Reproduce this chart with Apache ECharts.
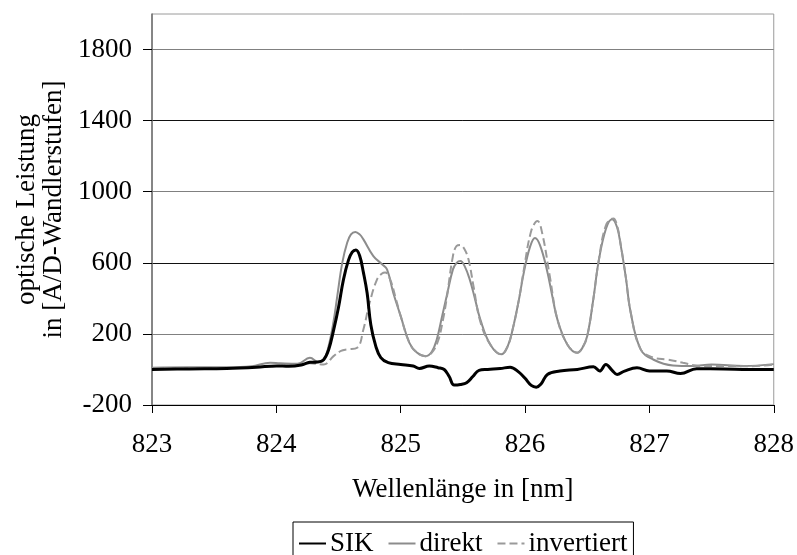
<!DOCTYPE html>
<html>
<head>
<meta charset="utf-8">
<script src="https://cdn.jsdelivr.net/npm/echarts@6/dist/echarts.min.js"></script>
<style>
  html, body { margin: 0; padding: 0; background: #fff; }
  #chart { width: 797px; height: 555px; }
</style>
</head>
<body>
<div id="chart"></div>
<script>
// Wavelength samples [nm] and optical power [A/D steps] per measurement
const sikX = [823, 823.3, 823.6, 823.84, 824.0, 824.1, 824.2, 824.27, 824.33, 824.38, 824.42, 824.46, 824.5, 824.54, 824.58, 824.61, 824.64, 824.67, 824.7, 824.73, 824.76, 824.8, 824.84, 824.9, 825.0, 825.1, 825.15, 825.23, 825.3, 825.35, 825.39, 825.43, 825.48, 825.53, 825.58, 825.63, 825.7, 825.8, 825.88, 825.95, 826.0, 826.05, 826.09, 826.13, 826.18, 826.28, 826.42, 826.55, 826.6, 826.65, 826.7, 826.74, 826.8, 826.9, 827.0, 827.14, 827.25, 827.38, 827.6, 827.8, 828];
const sikY = [0, 3, 5, 12, 20, 18, 25, 40, 42, 55, 110, 220, 350, 507, 615, 660, 672, 640, 546, 430, 250, 130, 67, 38, 28, 19, 6, 19, 10, 0, -40, -88, -85, -75, -40, -5, 0, 5, 13, -15, -50, -90, -100, -80, -28, -9, 0, 15, -9, 28, -5, -28, -9, 9, -9, -9, -23, 4, 3, 0, 0];

const direktX = [823, 823.3, 823.6, 823.8, 823.95, 824.03, 824.17, 824.27, 824.34, 824.38, 824.42, 824.46, 824.49, 824.53, 824.57, 824.6, 824.635, 824.67, 824.7, 824.78, 824.85, 824.89, 824.94, 825.0, 825.07, 825.13, 825.2, 825.25, 825.29, 825.33, 825.37, 825.42, 825.45, 825.48, 825.515, 825.555, 825.6, 825.64, 825.72, 825.81, 825.86, 825.9, 825.95, 825.99, 826.04, 826.08, 826.12, 826.175, 826.22, 826.26, 826.34, 826.42, 826.46, 826.5, 826.55, 826.59, 826.65, 826.7, 826.74, 826.77, 826.81, 826.85, 826.93, 827.03, 827.19, 827.35, 827.5, 827.76, 828];
const direktY = [10, 12, 12, 18, 38, 35, 32, 66, 41, 50, 131, 270, 413, 600, 714, 760, 774, 760, 732, 638, 592, 563, 432, 300, 150, 95, 75, 100, 169, 290, 413, 563, 600, 610, 580, 507, 390, 282, 141, 85, 130, 225, 390, 545, 690, 740, 700, 563, 410, 282, 141, 94, 120, 188, 400, 601, 790, 845, 800, 695, 520, 319, 113, 56, 22, 19, 28, 19, 30];

const invX = [823, 823.3, 823.6, 823.8, 824.0, 824.17, 824.27, 824.38, 824.46, 824.52, 824.57, 824.65, 824.7, 824.75, 824.81, 824.85, 824.875, 824.915, 824.96, 825.0, 825.07, 825.13, 825.2, 825.25, 825.3, 825.34, 825.37, 825.42, 825.45, 825.48, 825.51, 825.545, 825.585, 825.64, 825.72, 825.81, 825.86, 825.9, 825.95, 825.99, 826.05, 826.1, 826.14, 826.2, 826.26, 826.34, 826.42, 826.46, 826.5, 826.55, 826.59, 826.65, 826.71, 826.74, 826.77, 826.81, 826.85, 826.93, 827.03, 827.15, 827.27, 827.4, 827.6, 827.8, 828];
const invY = [5, 8, 8, 12, 20, 25, 35, 28, 75, 105, 113, 122, 225, 375, 507, 540, 545, 507, 400, 300, 150, 95, 75, 95, 160, 280, 400, 638, 695, 700, 680, 620, 470, 270, 141, 85, 130, 225, 390, 560, 780, 835, 760, 520, 282, 141, 94, 120, 188, 400, 601, 810, 850, 810, 700, 520, 319, 113, 67, 55, 38, 20, 20, 18, 28];

const seriesNames = ['SIK', 'direkt', 'invertiert'];
const yTickValues = [-200, 200, 600, 1000, 1400, 1800];
const xTickValues = [823, 824, 825, 826, 827, 828];

const pairs = (xs, ys) => xs.map((x, i) => [x, ys[i]]);

const FONT = 'Liberation Serif';
const chart = echarts.init(document.getElementById('chart'), null, { renderer: 'canvas' });

chart.setOption({
  animation: false,
  backgroundColor: '#fff',
  textStyle: { fontFamily: FONT, color: '#000' },
  grid: {
    left: 152, top: 14, width: 624, height: 391,
    show: true, borderColor: '#9a9a9a', borderWidth: 1, backgroundColor: 'transparent'
  },
  xAxis: {
    type: 'value',
    min: 823, max: 828, interval: 1,
    name: 'Wellenlänge in [nm]',
    nameLocation: 'middle',
    nameGap: 71,
    nameTextStyle: { fontFamily: FONT, fontSize: 27, color: '#000', lineHeight: 28, verticalAlign: 'top' },
    axisLine: { show: true, onZero: false, lineStyle: { color: '#000', width: 1 } },
    axisTick: { show: true, length: 8, inside: false, lineStyle: { color: '#000' } },
    axisLabel: {
      fontFamily: FONT, fontSize: 27, color: '#000', margin: 26, lineHeight: 28,
      customValues: xTickValues,
      formatter: v => String(v)
    },
    splitLine: { show: false }
  },
  yAxis: {
    type: 'value',
    min: -200, max: 2000, interval: 200,
    name: 'optische Leistung\nin [A/D-Wandlerstufen]',
    nameLocation: 'middle',
    nameRotate: 90,
    nameGap: 85,
    nameTextStyle: { fontFamily: FONT, fontSize: 27, color: '#000', lineHeight: 27, align: 'center' },
    axisLine: { show: true, lineStyle: { color: '#6e6e6e', width: 1.5 } },
    axisTick: { show: true, length: 9, customValues: yTickValues, lineStyle: { color: '#000' } },
    axisLabel: {
      fontFamily: FONT, fontSize: 27, color: '#000', margin: 20,
      customValues: yTickValues,
      formatter: v => String(v)
    },
    splitLine: { show: true, lineStyle: { color: ['#111', '#808080'], width: 1 } }
  },
  legend: {
    data: seriesNames,
    left: 293, top: 522,
    orient: 'horizontal',
    padding: [8, 6, 16, 5],
    itemGap: 14,
    itemWidth: 27, itemHeight: 2,
    itemStyle: { opacity: 0 },
    borderColor: '#000', borderWidth: 1,
    textStyle: { fontFamily: FONT, fontSize: 27, color: '#000', padding: [0, 0, 0, -1] }
  },
  series: [
    {
      name: seriesNames[1], type: 'line', data: pairs(direktX, direktY),
      symbol: 'none', smooth: 0.4, z: 2,
      lineStyle: { color: '#8c8c8c', width: 2 }, itemStyle: { color: '#8c8c8c' }
    },
    {
      name: seriesNames[2], type: 'line', data: pairs(invX, invY),
      symbol: 'none', smooth: 0.4, z: 3,
      lineStyle: { color: '#9a9a9a', width: 2, type: [8, 4] }, itemStyle: { color: '#9a9a9a' }
    },
    {
      name: seriesNames[0], type: 'line', data: pairs(sikX, sikY),
      symbol: 'none', smooth: 0.4, z: 4,
      lineStyle: { color: '#000', width: 3 }, itemStyle: { color: '#000' }
    }
  ]
});
</script>
</body>
</html>
